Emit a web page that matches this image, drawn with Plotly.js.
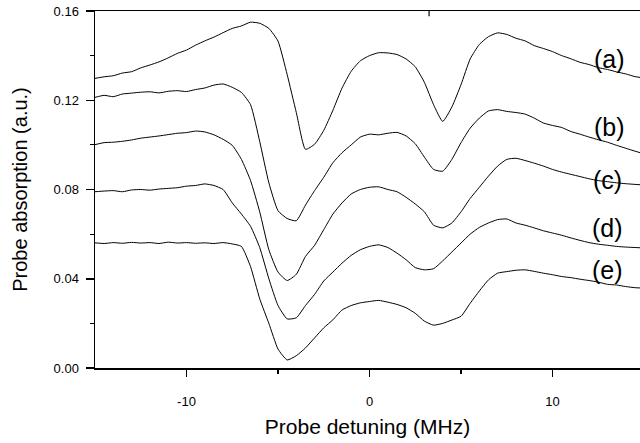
<!DOCTYPE html>
<html>
<head>
<meta charset="utf-8">
<script src="https://cdn.plot.ly/plotly-3.0.1.min.js"></script>
<style>
html,body{margin:0;padding:0;overflow:hidden;background:#fff;}
#chart{width:640px;height:443px;}
</style>
</head>
<body>
<div id="chart"></div>
<script>
// Probe detuning (MHz), shared sampling grid
const detuning = [-15,-14.5,-14,-13.5,-13,-12.5,-12,-11.5,-11,-10.5,-10,-9.5,-9,-8.5,-8,-7.5,-7,-6.5,-6,-5.5,-5,-4.5,-4,-3.5,-3,-2.5,-2,-1.5,-1,-0.5,0,0.5,1,1.5,2,2.5,3,3.5,4,4.5,5,5.5,6,6.5,7,7.5,8,8.5,9,9.5,10,10.5,11,11.5,12,12.5,13,13.5,14,14.5,15];

const curveA = [0.1298,0.1305,0.1310,0.1322,0.1328,0.1345,0.1358,0.1372,0.1390,0.1410,0.1425,0.1447,0.1466,0.1483,0.1503,0.1522,0.1533,0.1550,0.1545,0.1522,0.1465,0.1315,0.1145,0.0980,0.1003,0.1065,0.1155,0.1255,0.1330,0.1377,0.1400,0.1413,0.1412,0.1405,0.1385,0.1350,0.1280,0.1180,0.1105,0.1170,0.1270,0.1385,0.1450,0.1485,0.1502,0.1495,0.1478,0.1466,0.1445,0.1432,0.1418,0.1400,0.1386,0.1370,0.1360,0.1346,0.1338,0.1327,0.1318,0.1306,0.1300];

const curveB = [0.1213,0.1222,0.1216,0.1228,0.1232,0.1236,0.1238,0.1233,0.1240,0.1243,0.1239,0.1248,0.1255,0.1268,0.1273,0.1258,0.1235,0.1180,0.1015,0.0830,0.0705,0.0670,0.0660,0.0730,0.0795,0.0855,0.0920,0.0965,0.1000,0.1035,0.1048,0.1045,0.1052,0.1056,0.1040,0.1005,0.0945,0.0890,0.0882,0.0935,0.1010,0.1075,0.1120,0.1152,0.1158,0.1150,0.1145,0.1138,0.1120,0.1098,0.1087,0.1078,0.1060,0.1048,0.1035,0.1023,0.1012,0.0998,0.0985,0.0972,0.0960];

const curveC = [0.1001,0.1010,0.1012,0.1016,0.1022,0.1030,0.1035,0.1040,0.1046,0.1052,0.1055,0.1062,0.1058,0.1045,0.1025,0.0998,0.0935,0.0840,0.0700,0.0530,0.0430,0.0392,0.0420,0.0500,0.0550,0.0620,0.0690,0.0740,0.0780,0.0800,0.0810,0.0812,0.0800,0.0790,0.0765,0.0735,0.0700,0.0640,0.0628,0.0650,0.0700,0.0760,0.0810,0.0860,0.0905,0.0935,0.0940,0.0930,0.0918,0.0905,0.0890,0.0878,0.0868,0.0858,0.0848,0.0840,0.0835,0.0830,0.0826,0.0823,0.0820];

const curveD = [0.0790,0.0793,0.0795,0.0790,0.0798,0.0800,0.0797,0.0802,0.0805,0.0808,0.0815,0.0818,0.0825,0.0818,0.0800,0.0740,0.0690,0.0635,0.0540,0.0400,0.0280,0.0220,0.0225,0.0280,0.0330,0.0390,0.0430,0.0470,0.0505,0.0530,0.0545,0.0552,0.0540,0.0515,0.0485,0.0450,0.0440,0.0445,0.0480,0.0520,0.0560,0.0600,0.0630,0.0650,0.0665,0.0668,0.0650,0.0640,0.0628,0.0615,0.0605,0.0595,0.0583,0.0572,0.0562,0.0555,0.0550,0.0545,0.0542,0.0540,0.0538];

const curveE = [0.0561,0.0558,0.0562,0.0559,0.0563,0.0560,0.0562,0.0558,0.0564,0.0560,0.0562,0.0559,0.0561,0.0558,0.0562,0.0556,0.0545,0.0454,0.0310,0.0200,0.0085,0.0036,0.0055,0.0090,0.0135,0.0180,0.0216,0.0260,0.0280,0.0292,0.0298,0.0303,0.0295,0.0285,0.0270,0.0245,0.0210,0.0192,0.0200,0.0215,0.0232,0.0290,0.0345,0.0395,0.0425,0.0432,0.0438,0.0440,0.0433,0.0425,0.0418,0.0410,0.0405,0.0398,0.0392,0.0385,0.0375,0.0372,0.0365,0.0360,0.0358];

const curveNames = ["(a)","(b)","(c)","(d)","(e)"];
const labelX = [13.1,13.1,13.0,13.0,13.0];
const labelY = [0.1383,0.1078,0.0844,0.0629,0.0440];
const xTickVals = [-10,0,10];
const xMinorVals = [-5,5,15];
const yTickVals = [0,0.04,0.08,0.12,0.16];
const yMinorVals = [0.02,0.06,0.10,0.14];

const series = [curveA,curveB,curveC,curveD,curveE];
const FONT = "Liberation Sans, Arial, Helvetica, sans-serif";

const traces = series.map((ys,i)=>({
  x: detuning, y: ys, type:'scatter', mode:'lines', name: curveNames[i],
  line:{color:'#000', width:1, shape:'spline', smoothing:0.5}, hoverinfo:'skip'
}));

const annotations = curveNames.map((t,i)=>({
  x: labelX[i], y: labelY[i], xref:'x', yref:'y', text:t, showarrow:false,
  font:{family:FONT, size:25, color:'#000'}, xanchor:'center', yanchor:'middle'
}));

const layout = {
  width:640, height:443,
  margin:{l:95, r:0, t:11, b:75},
  paper_bgcolor:'#fff', plot_bgcolor:'#fff',
  showlegend:false,
  font:{family:FONT, color:'#000'},
  xaxis:{
    range:[-15,14.78], showgrid:false, zeroline:false,
    showline:true, linecolor:'#000', linewidth:1.5, mirror:true,
    tickmode:'array', tickvals:xTickVals, ticktext:xTickVals.map(String),
    ticks:'outside', ticklen:7, tickwidth:1.5, tickcolor:'#000',
    minor:{tickmode:'array', tickvals:xMinorVals, ticks:'outside', ticklen:4, tickwidth:1.2, tickcolor:'#000'},
    tickfont:{family:FONT, size:13, color:'#000'},
    ticklabelstandoff:14,
    title:{text:'Probe detuning (MHz)', font:{family:FONT, size:21, color:'#000'}, standoff:11}
  },
  yaxis:{
    range:[0,0.16], showgrid:false, zeroline:false,
    showline:true, linecolor:'#000', linewidth:1.5,
    tickmode:'array', tickvals:yTickVals, ticktext:yTickVals.map(v=>v.toFixed(2)),
    ticks:'outside', ticklen:8, tickwidth:1.5, tickcolor:'#000',
    minor:{tickmode:'array', tickvals:yMinorVals, ticks:'outside', ticklen:4, tickwidth:1.2, tickcolor:'#000'},
    tickfont:{family:FONT, size:13, color:'#000'},
    ticklabelstandoff:4,
    title:{text:'Probe absorption (a.u.)', font:{family:FONT, size:20, color:'#000'}, standoff:20}
  },
  shapes:[{type:'line', xref:'paper', yref:'paper', x0:0.613, x1:0.613, y0:1, y1:0.985, line:{color:'#000', width:1.2}}],
  annotations: annotations
};

Plotly.newPlot('chart', traces, layout, {staticPlot:true, displayModeBar:false});
</script>
</body>
</html>
